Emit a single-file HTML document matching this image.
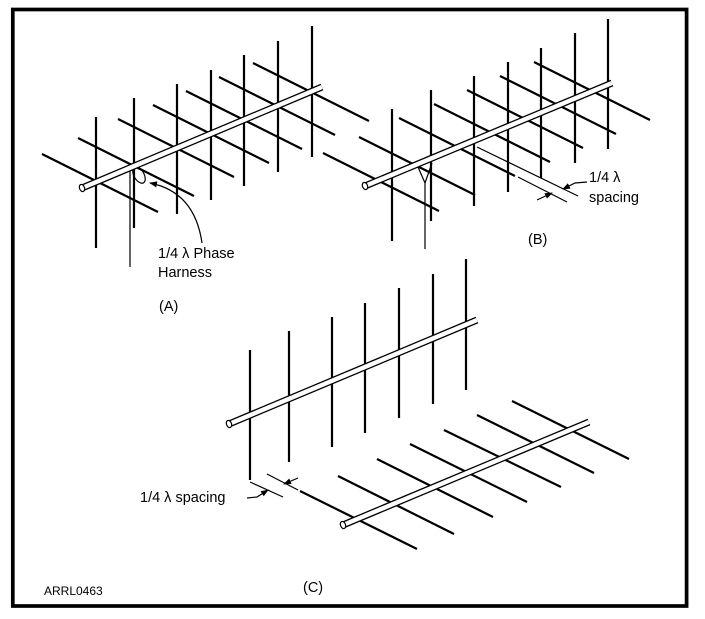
<!DOCTYPE html>
<html><head><meta charset="utf-8"><style>
html,body{margin:0;padding:0;background:#fff}
svg{display:block}
text{font-family:"Liberation Sans",Arial,sans-serif;fill:#000}
</style></head><body>
<svg width="705" height="619" viewBox="0 0 705 619" xmlns="http://www.w3.org/2000/svg">
<rect x="12.8" y="9.5" width="673.8" height="596.5" fill="none" stroke="#000" stroke-width="3.7"/>
<defs>
<marker id="ar" markerWidth="8" markerHeight="6" refX="7" refY="3" orient="auto" markerUnits="userSpaceOnUse"><path d="M0,0 L8,3 L0,6z" fill="#000"/></marker>
</defs>
<g stroke="#000" stroke-width="2.2" fill="none">
<line x1="42" y1="154" x2="158" y2="212"/><line x1="78" y1="138" x2="194" y2="196"/>
<line x1="118" y1="119" x2="234" y2="177"/><line x1="153" y1="105" x2="269" y2="163"/>
<line x1="186" y1="91" x2="302" y2="149"/><line x1="219" y1="77" x2="335" y2="135"/>
<line x1="253" y1="63" x2="369" y2="121"/>
<line x1="96" y1="117" x2="96" y2="248"/><line x1="134" y1="98" x2="134" y2="228"/>
<line x1="177" y1="84" x2="177" y2="214"/><line x1="211" y1="70" x2="211" y2="200"/>
<line x1="244" y1="55" x2="244" y2="186"/><line x1="278" y1="41" x2="278" y2="172"/>
<line x1="312" y1="26" x2="312" y2="157"/>
<line x1="323" y1="153" x2="439" y2="211"/><line x1="359" y1="137" x2="475" y2="195"/>
<line x1="399" y1="118" x2="515" y2="176"/><line x1="434" y1="104" x2="550" y2="162"/>
<line x1="467" y1="90" x2="583" y2="148"/><line x1="500" y1="76" x2="616" y2="134"/>
<line x1="534" y1="62" x2="650" y2="120"/>
<line x1="392" y1="109" x2="392" y2="241"/><line x1="431" y1="90" x2="431" y2="221"/>
<line x1="474" y1="76" x2="474" y2="206"/><line x1="508" y1="62" x2="508" y2="192"/>
<line x1="541" y1="48" x2="541" y2="178"/><line x1="575" y1="33" x2="575" y2="163"/>
<line x1="608" y1="19" x2="608" y2="149"/>
<line x1="250" y1="350" x2="250" y2="480"/><line x1="289" y1="331" x2="289" y2="462"/>
<line x1="332" y1="317" x2="332" y2="447"/><line x1="365" y1="303" x2="365" y2="433"/>
<line x1="399" y1="288" x2="399" y2="418"/><line x1="433" y1="274" x2="433" y2="404"/>
<line x1="466" y1="259" x2="466" y2="390"/>
<line x1="300" y1="491" x2="417" y2="549"/><line x1="338" y1="476" x2="454" y2="534"/>
<line x1="377" y1="459" x2="493" y2="517"/><line x1="410" y1="444" x2="527" y2="502"/>
<line x1="444" y1="430" x2="561" y2="487"/><line x1="477" y1="415" x2="594" y2="473"/>
<line x1="512" y1="401" x2="629" y2="459"/>
</g>
<g stroke="#000" stroke-width="1.2" fill="none">
<line x1="130" y1="170" x2="130" y2="267"/>
<ellipse cx="139" cy="175" rx="5" ry="9" transform="rotate(-30 139 175)"/>
<path d="M202,243 C198,215 185,190 150,183" marker-end="url(#ar)"/>
<line x1="425" y1="183" x2="425" y2="249"/>
<path d="M418,167 L425,183 L432,163"/>
<line x1="477" y1="147" x2="578" y2="196"/>
<line x1="518" y1="177" x2="567" y2="202"/>
<path d="M587,182 L575,183 L563,189" marker-end="url(#ar)"/>
<path d="M537,200 L552,193" marker-end="url(#ar)"/>
<line x1="250" y1="482" x2="283" y2="497"/>
<line x1="267" y1="474" x2="298" y2="490"/>
<path d="M298,478 L284,484" marker-end="url(#ar)"/>
<path d="M247,498 L257,497 L268,490" marker-end="url(#ar)"/>
</g>
<g stroke-linecap="butt">
<line x1="82" y1="188" x2="322" y2="87" stroke="#000" stroke-width="7"/>
<line x1="82" y1="188" x2="322" y2="87" stroke="#fff" stroke-width="4.4"/>
<ellipse cx="82" cy="188" rx="2.5" ry="3.7" transform="rotate(-22 82 188)" fill="#fff" stroke="#000" stroke-width="1.2"/>
<line x1="365" y1="186" x2="612" y2="83" stroke="#000" stroke-width="7"/>
<line x1="365" y1="186" x2="612" y2="83" stroke="#fff" stroke-width="4.4"/>
<ellipse cx="365" cy="186" rx="2.5" ry="3.7" transform="rotate(-22 365 186)" fill="#fff" stroke="#000" stroke-width="1.2"/>
<line x1="229" y1="424" x2="477" y2="320" stroke="#000" stroke-width="7"/>
<line x1="229" y1="424" x2="477" y2="320" stroke="#fff" stroke-width="4.4"/>
<ellipse cx="229" cy="424" rx="2.5" ry="3.7" transform="rotate(-22 229 424)" fill="#fff" stroke="#000" stroke-width="1.2"/>
<line x1="343" y1="525" x2="589" y2="422" stroke="#000" stroke-width="7"/>
<line x1="343" y1="525" x2="589" y2="422" stroke="#fff" stroke-width="4.4"/>
<ellipse cx="343" cy="525" rx="2.5" ry="3.7" transform="rotate(-22 343 525)" fill="#fff" stroke="#000" stroke-width="1.2"/>
</g>
<g font-size="14.5">
<text x="158" y="258">1/4 λ Phase</text>
<text x="158" y="277">Harness</text>
<text x="159" y="311">(A)</text>
<text x="589" y="182">1/4 λ</text>
<text x="589" y="202">spacing</text>
<text x="528" y="244">(B)</text>
<text x="140" y="502">1/4 λ spacing</text>
<text x="303" y="592">(C)</text>
<text x="44" y="595" font-size="12">ARRL0463</text>
</g>
</svg>
</body></html>
